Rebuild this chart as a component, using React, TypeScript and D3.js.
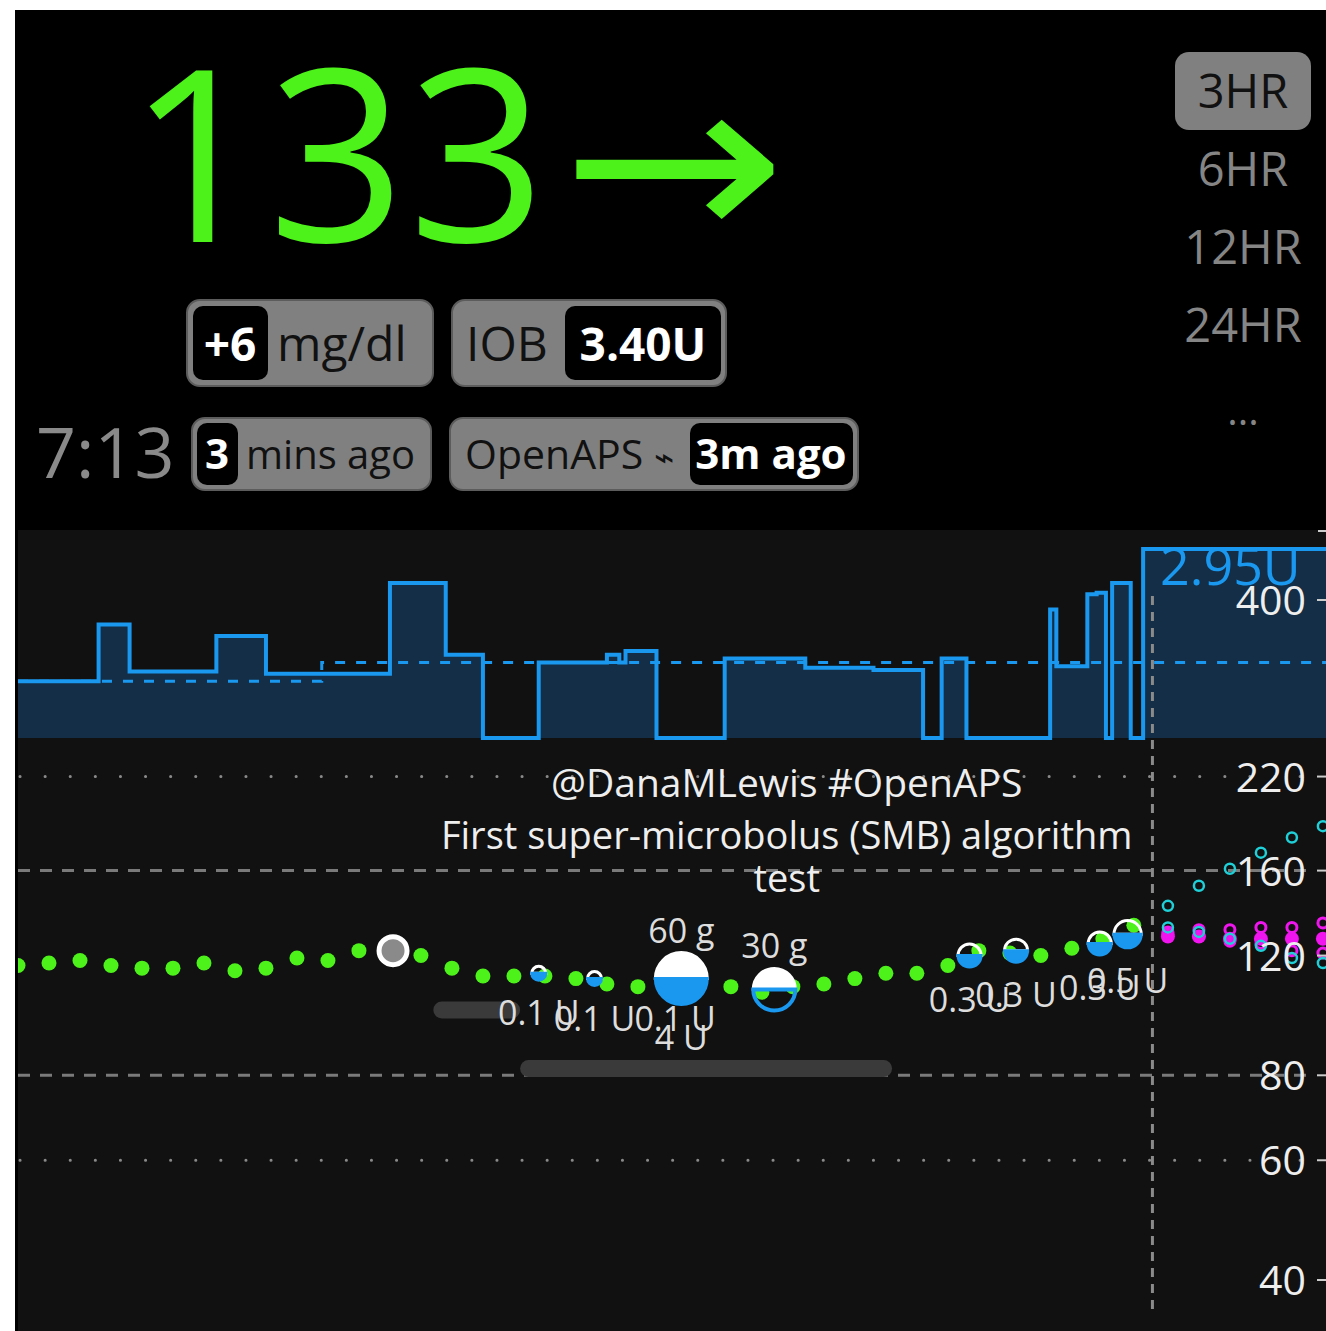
import React from 'react';
import * as d3 from 'd3';

// ---------- data ----------
const glucoseStartMin = -183;
const glucoseStepMin = 5;
const glucoseValues = [116, 117, 118, 116, 115, 115, 117, 114, 115, 119, 118, 122, 122, 120, 115, 112, 112, 112, 111, 109, 108, 108, 110, 108, 106, 108, 109, 111, 113, 113, 116, 122, 121, 120, 123, 127, 133];

const basalTimes = [-183, -170, -165, -151, -143, -123, -114, -108, -99, -88, -86, -85, -80, -69, -56, -45, -37, -34, -30, -16.5, -15.5, -10.5, -9, -7.5, -6.5, -3.5, -1.5, 28];
const basalRates = [0.75, 1.5, 0.88, 1.35, 0.85, 2.05, 1.1, 0, 1.0, 1.1, 1.0, 1.15, 0, 1.05, 0.93, 0.9, 0, 1.05, 0, 1.7, 0.95, 1.9, 1.92, 0, 2.05, 0, 2.5, 2.5];
const scheduledTimes = [-183, -134, 28];
const scheduledRates = [0.75, 1.0, 1.0];
const basalLabel = '2.95U';

const treatmentTimes = [-99, -90, -77, -76, -61, -29.5, -22, -8.5, -4];
const treatmentBG = [113, 111, 111, 111, 107, 120, 122, 125, 129];
const treatmentInsulin = [0.1, 0.1, 0.1, 4, 0, 0.3, 0.3, 0.3, 0.5];
const treatmentCarbs = [0, 0, 0, 60, 30, 0, 0, 0, 0];

const mbgTimes = [-122.5];
const mbgValues = [122];

const durationStart = [-116, -102];
const durationEnd = [-102, -42];
const durationBG = [100, 82];

const noteTime = -59;
const noteLines = ['@DanaMLewis #OpenAPS', 'First super-microbolus (SMB) algorithm', 'test'];

const predTimes = [2.5, 7.5, 12.5, 17.5, 22.5, 27.5];
const predCyanUp = [142, 152, 161, 170, 179, 186];
const predCyanDown = [132, 130, 127, 124, 119, 117];
const predMagentaFilled = [128, 128, 127, 127, 127, 127];
const predMagentaRingA = [130, 131, 131, 132, 132, 134];
const predMagentaRingB = [129, 128, 126, 125, 122, 121];

const yTicks = [40, 60, 80, 120, 160, 220, 400];
const dottedTicks = [60, 220];
const dashedTicks = [80, 160];

const timeRanges = ['3HR', '6HR', '12HR', '24HR'];

// ---------- styles ----------
const GREEN = '#4cf21a';
const BLUE = '#1a98f0';
const CYAN = '#1fd0d8';
const MAGENTA = '#f014ee';
const FONT = '"Open Sans", "Noto Sans", sans-serif';

export default function App() {
  const x = d3.scaleLinear().domain([-183, 28]).range([18, 1326]);
  const y = d3.scaleLog().domain([40, 400]).range([1280, 600]);
  const yb = d3.scaleLinear().domain([0, 2.5]).range([738, 549]);
  const rScale = d3.scaleLog().domain([1, 100]).range([7, 26]).clamp(true);

  const basalData = basalTimes.map((t, i) => ({ t, v: basalRates[i] }));
  const schedData = scheduledTimes.map((t, i) => ({ t, v: scheduledRates[i] }));
  const basalLine = d3.line<any>().x(d => x(d.t)).y(d => yb(d.v)).curve(d3.curveStepAfter);
  const basalArea = d3.area<any>().x(d => x(d.t)).y0(yb(0)).y1(d => yb(d.v)).curve(d3.curveStepAfter);

  const glucose = glucoseValues.map((v, i) => ({ t: glucoseStartMin + i * glucoseStepMin, v }));

  const topArc = d3.arc<any>().innerRadius(0).startAngle(-Math.PI / 2).endAngle(Math.PI / 2);
  const botArc = d3.arc<any>().innerRadius(0).startAngle(Math.PI / 2).endAngle(Math.PI * 1.5);

  const treatments = treatmentTimes.map((t, i) => {
    const ins = treatmentInsulin[i];
    const carbs = treatmentCarbs[i];
    const r = rScale(carbs + ins * 10);
    return { t, bg: treatmentBG[i], ins, carbs, r, cx: x(t), cy: y(treatmentBG[i]) };
  });

  const pill = (px: number, py: number, w: number, h: number) => (
    <rect x={px} y={py} width={w} height={h} rx={13} fill="#808080" stroke="#5c5c5c" strokeWidth={2} />
  );
  const inner = (px: number, py: number, w: number, h: number) => (
    <rect x={px} y={py} width={w} height={h} rx={10} fill="#000" />
  );

  const xL = 18, xR = 1312;

  return (
    <svg width={1326} height={1331} style={{ position: 'absolute', left: 0, top: 0 }} fontFamily={FONT}>
      <rect x={0} y={0} width={1326} height={1331} fill="#fff" />
      <rect x={15} y={10} width={1311} height={521} fill="#000" />
      <rect x={15} y={530} width={1311} height={801} fill="#111" />
      <rect x={15} y={530} width={3} height={801} fill="#000" />

      {/* ---------- header ---------- */}
      <text x={128} y={242} fontSize={240} letterSpacing={3} fill={GREEN}>133</text>
      <text transform="translate(561,242) scale(1.16,1)" fontSize={232} fill={GREEN} fontFamily='"DejaVu Sans", sans-serif'>→</text>

      {pill(187, 300, 246, 86)}
      {inner(193, 306, 75, 74)}
      <text x={230} y={361} fontSize={46} fontWeight="bold" fill="#fff" textAnchor="middle">+6</text>
      <text x={277} y={361} fontSize={48} fill="#111">mg/dl</text>

      {pill(452, 300, 274, 86)}
      {inner(565, 306, 156, 74)}
      <text x={466} y={361} fontSize={48} fill="#111">IOB</text>
      <text x={643} y={361} fontSize={46} fontWeight="bold" fill="#fff" textAnchor="middle">3.40U</text>

      <text x={36} y={478} fontSize={70} fill="#8a8a8a">7:13</text>

      {pill(192, 418, 239, 72)}
      {inner(197, 423, 41, 62)}
      <text x={217} y={469} fontSize={42} fontWeight="bold" fill="#fff" textAnchor="middle">3</text>
      <text x={246} y={469} fontSize={40} fill="#111">mins ago</text>

      {pill(450, 418, 408, 72)}
      {inner(690, 423, 163, 62)}
      <text x={465} y={469} fontSize={41} fill="#111">OpenAPS <tspan fontSize={34} fontFamily='"DejaVu Sans", sans-serif'>⌁</tspan></text>
      <text x={771} y={469} fontSize={42} fontWeight="bold" fill="#fff" textAnchor="middle">3m ago</text>

      <rect x={1175} y={52} width={136} height={78} rx={14} fill="#808080" />
      {timeRanges.map((lbl, i) => (
        <text key={lbl} x={1243} y={108 + i * 78} fontSize={47} textAnchor="middle" fill={i === 0 ? '#111' : '#858585'}>{lbl}</text>
      ))}
      <text x={1243} y={425} fontSize={40} textAnchor="middle" fill="#858585">...</text>

      {/* ---------- basal ---------- */}
      <path d={basalArea(basalData) || ''} fill="#14304a" opacity={0.95} />
      <path d={basalLine(schedData) || ''} fill="none" stroke={BLUE} strokeWidth={3} strokeDasharray="10,11" />
      <path d={basalLine(basalData) || ''} fill="none" stroke={BLUE} strokeWidth={4} />
      <text x={1160} y={585} fontSize={52} fill={BLUE}>{basalLabel}</text>

      {/* ---------- grid ---------- */}
      {dottedTicks.map(v => (
        <line key={'dt' + v} x1={xL + 2} x2={xR} y1={y(v)} y2={y(v)} stroke="#8a8a8a" strokeWidth={3} strokeLinecap="round" strokeDasharray="0.1,25" />
      ))}
      {dashedTicks.map(v => (
        <line key={'ds' + v} x1={xL} x2={xR} y1={y(v)} y2={y(v)} stroke="#7a7a7a" strokeWidth={3} strokeDasharray="12,10" />
      ))}
      <line x1={x(0)} x2={x(0)} y1={596} y2={1312} stroke="#8a8a8a" strokeWidth={3} strokeDasharray="9,7" />

      {/* durations */}
      {durationStart.map((s, i) => (
        <rect key={'dur' + i} x={x(s)} y={y(durationBG[i]) - 8} width={x(durationEnd[i]) - x(s)} height={17} rx={8.5} fill="#3a3a3a" />
      ))}

      {/* ---------- note ---------- */}
      {noteLines.map((l, i) => (
        <text key={'n' + i} x={x(noteTime)} y={797 + i * 52 - (i === 2 ? 9 : 0)} fontSize={i === 0 ? 39 : 38} fill="#eee" textAnchor="middle">{l}</text>
      ))}

      {/* ---------- glucose ---------- */}
      <g clipPath="url(#plotClip)">
        <defs>
          <clipPath id="plotClip"><rect x={18} y={530} width={1308} height={801} /></clipPath>
        </defs>
        {glucose.map((d, i) => (
          <circle key={'g' + i} cx={x(d.t)} cy={y(d.v)} r={7.5} fill={GREEN} />
        ))}
        {mbgTimes.map((t, i) => (
          <g key={'m' + i}>
            <circle cx={x(t)} cy={y(mbgValues[i])} r={14} fill="#8a8a8a" stroke="#fff" strokeWidth={5} />
          </g>
        ))}

        {/* predictions */}
        {predTimes.map((t, i) => (
          <g key={'p' + i}>
            <circle cx={x(t)} cy={y(predMagentaFilled[i])} r={7} fill={MAGENTA} />
            <circle cx={x(t)} cy={y(predMagentaRingB[i])} r={5} fill="none" stroke={MAGENTA} strokeWidth={3} />
            <circle cx={x(t)} cy={y(predMagentaRingA[i])} r={5} fill="none" stroke={MAGENTA} strokeWidth={3} />
            <circle cx={x(t)} cy={y(predCyanDown[i])} r={5} fill="none" stroke={CYAN} strokeWidth={2.5} />
            <circle cx={x(t)} cy={y(predCyanUp[i])} r={5} fill="none" stroke={CYAN} strokeWidth={2.5} />
          </g>
        ))}

        {/* treatments */}
        {treatments.map((d, i) => (
          <g key={'t' + i} transform={`translate(${d.cx},${d.cy})`}>
            <path d={topArc({ outerRadius: d.r }) || ''} fill={d.carbs > 0 ? '#fff' : 'none'} stroke="#fff" strokeWidth={3} />
            <path d={botArc({ outerRadius: d.r }) || ''} fill={d.ins > 0 ? BLUE : 'none'} stroke={BLUE} strokeWidth={d.ins > 0 ? 3 : 4} />
          </g>
        ))}
      </g>
      {treatments.map((d, i) => (
        <g key={'tl' + i}>
          {d.ins > 0 && (
            <text x={d.cx} y={d.cy + Math.max(50, d.r + 45)} fontSize={34} fill="#ddd" textAnchor="middle">{`${d.ins} U`}</text>
          )}
          {d.carbs > 0 && (
            <text x={d.cx} y={d.cy - d.r - 10} fontSize={34} fill="#ddd" textAnchor="middle">{`${d.carbs} g`}</text>
          )}
        </g>
      ))}

      {/* ---------- y axis ---------- */}
      <line x1={1318} x2={1326} y1={531} y2={531} stroke="#ccc" strokeWidth={2} />
      {yTicks.map(v => (
        <g key={'yt' + v}>
          <line x1={1317} x2={1326} y1={y(v)} y2={y(v)} stroke="#ccc" strokeWidth={2} />
          <text x={1306} y={y(v) + 15} fontSize={41} fill="#eee" textAnchor="end">{v}</text>
        </g>
      ))}
    </svg>
  );
}
